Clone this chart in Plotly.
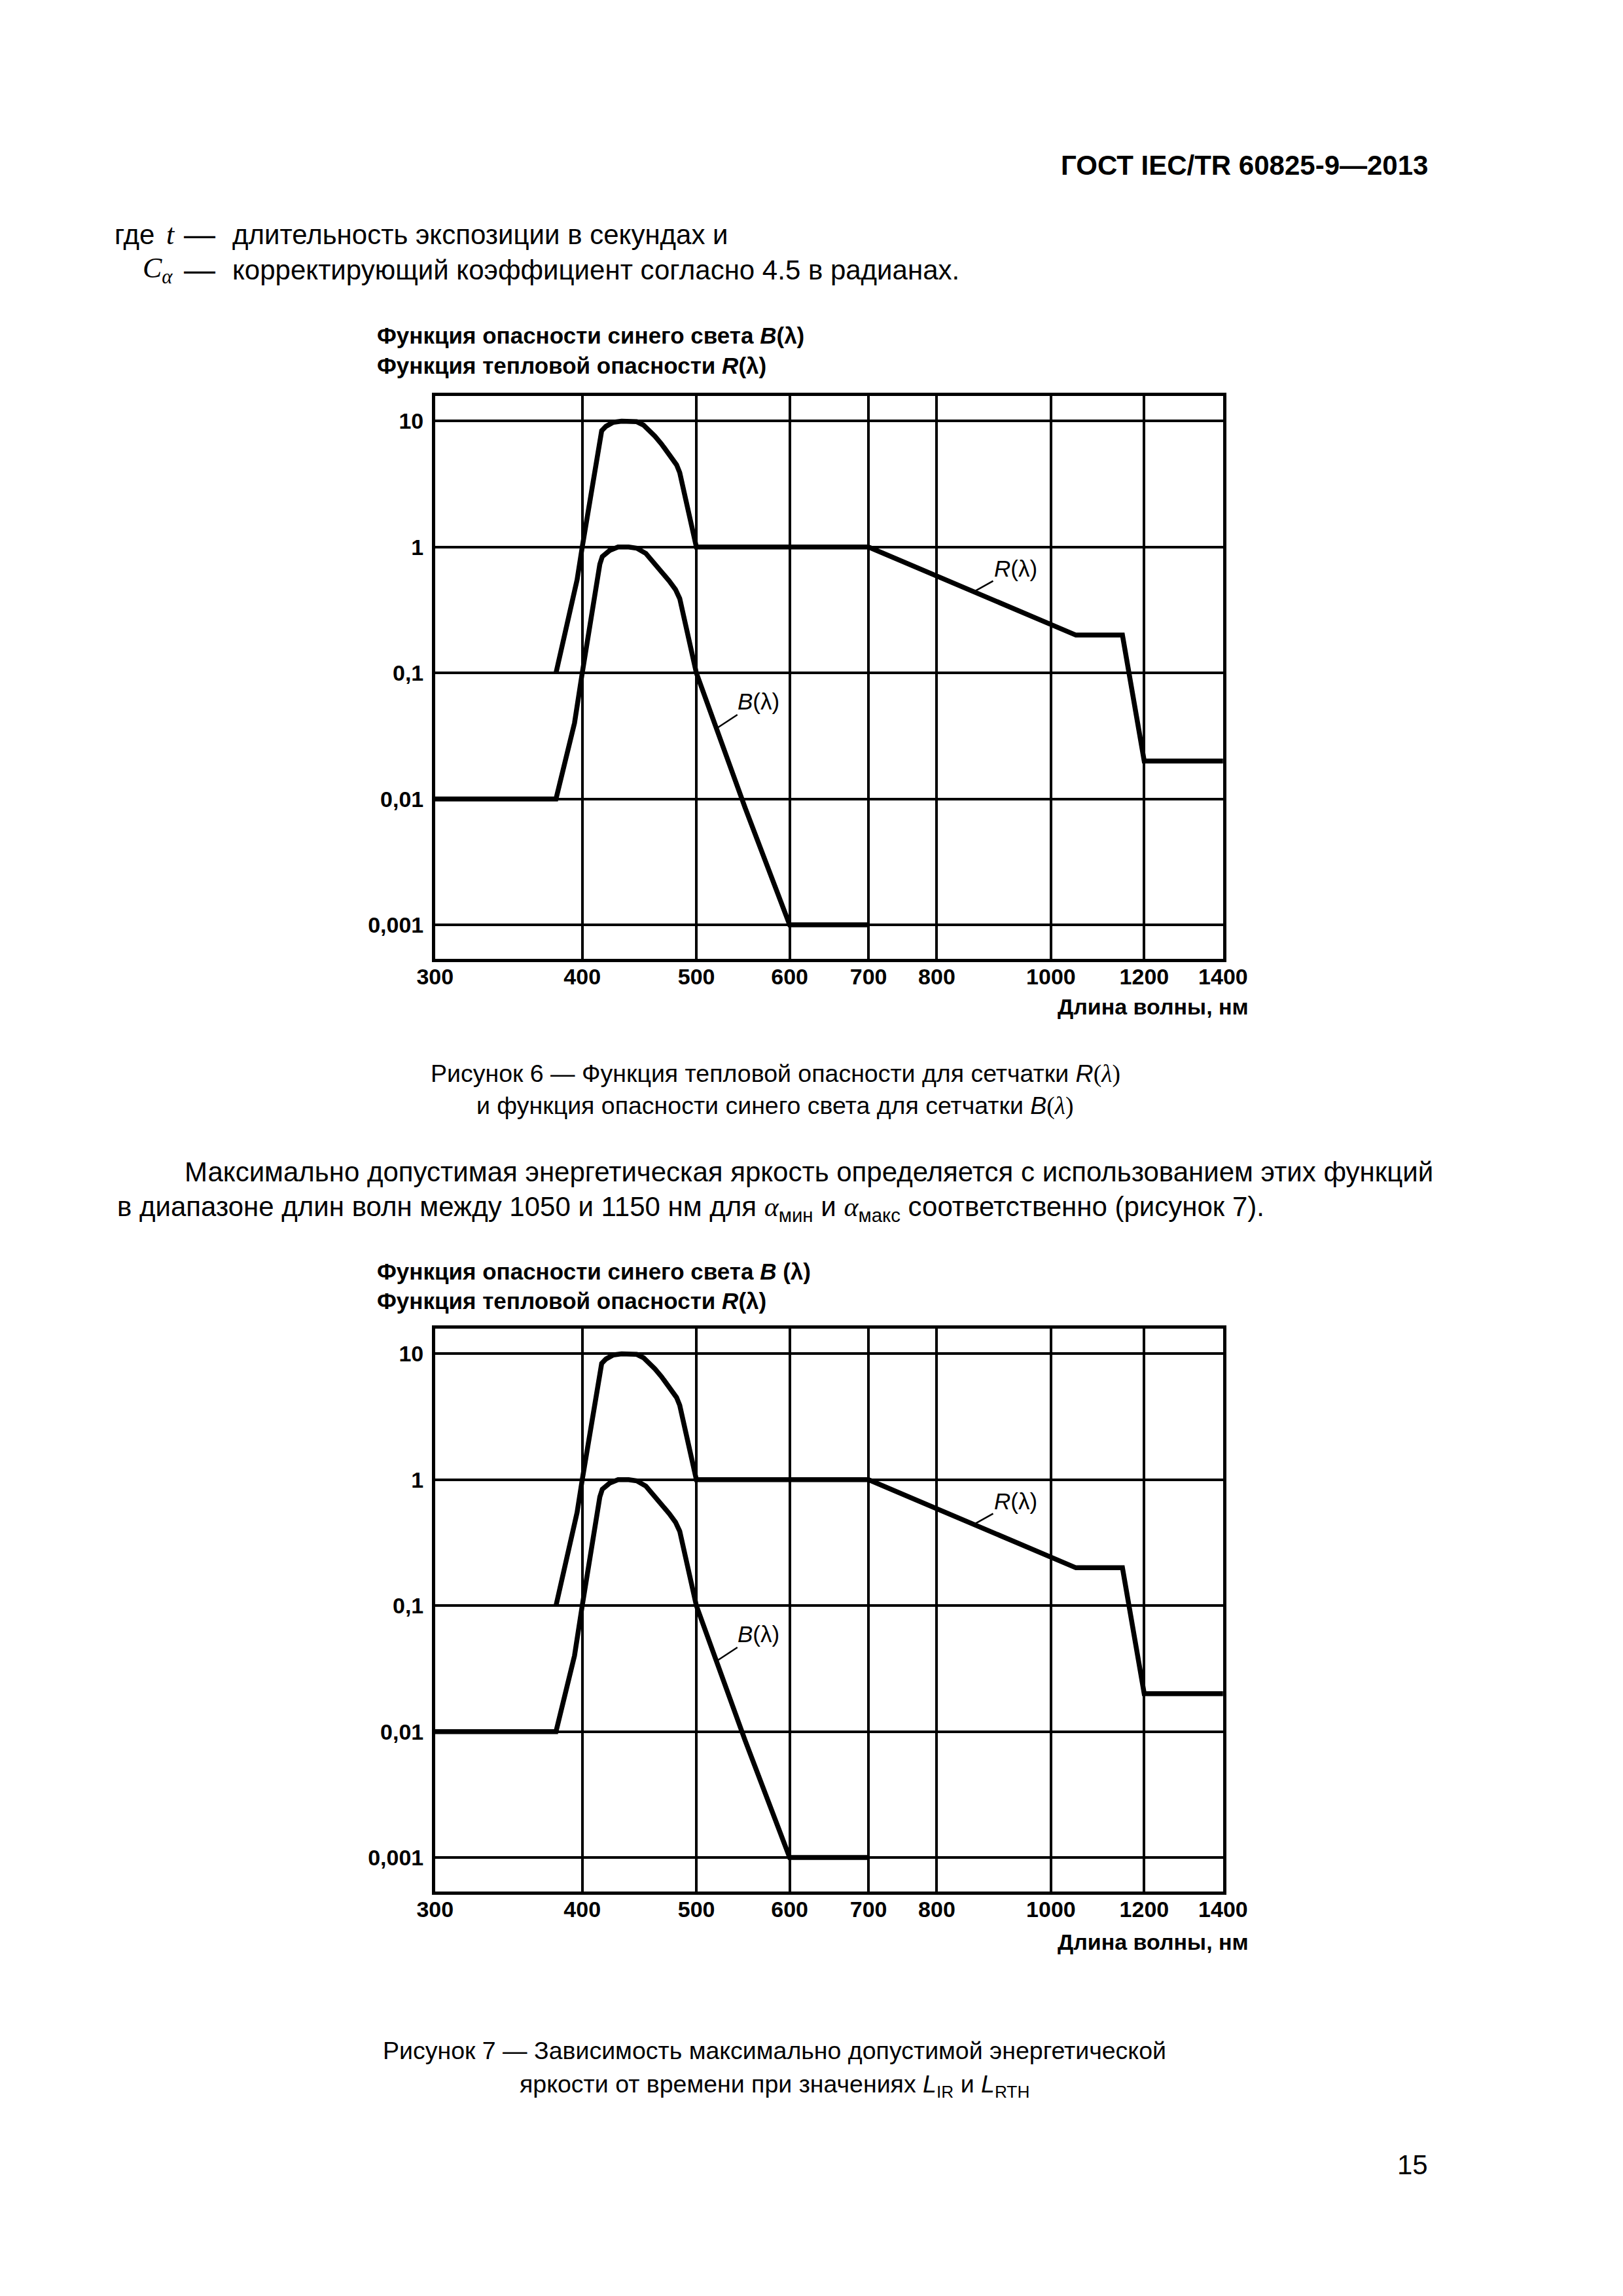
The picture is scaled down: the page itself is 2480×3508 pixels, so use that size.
import numpy as np
import plotly.graph_objects as go

# ---------------- data ----------------
wl_B = [300, 380, 394, 397.5, 400, 414, 416, 422, 429, 438, 445, 453, 460, 468, 474, 480, 484, 500, 550, 600, 700]
B_vals = [0.01, 0.01, 0.04, 0.064, 0.1, 0.73, 0.84, 0.94, 1.0, 1.0, 0.98, 0.89, 0.76, 0.62, 0.54, 0.46, 0.39,
          0.1, 0.0085, 0.001, 0.001]

wl_R = [380, 391, 396, 400, 414, 415.5, 419, 425, 432, 440, 445, 451, 455, 461, 467, 472, 478, 481, 484,
        500, 700, 1050, 1150, 1200, 1400]
R_vals = [0.1, 0.33, 0.55, 1.0, 7.5, 8.4, 9.1, 9.8, 10, 10, 9.9, 9.3, 8.6, 7.6, 6.6, 5.8, 5.0, 4.5, 3.9,
          1.0, 1.0, 0.2, 0.2, 0.02, 0.02]

x_ticks = [300, 400, 500, 600, 700, 800, 1000, 1200, 1400]
x_ticklabels = ["300", "400", "500", "600", "700", "800", "1000", "1200", "1400"]
y_ticks = [0.001, 0.01, 0.1, 1, 10]
y_ticklabels = ["0,001", "0,01", "0,1", "1", "10"]
x_range = [300, 1400]
y_range_log = [-3.27, 1.20]

label_R_wl = 860
label_B_wl = 520

# ---------------- page geometry ----------------
W, H = 2480, 3508
SANS = "Liberation Sans, Arial, sans-serif"
SERIF = "Liberation Serif, Times New Roman, serif"


def px(x):
    return x / W


def py(y):
    return 1 - y / H


fig = go.Figure()

PLOT_L, PLOT_R = 646, 1883
chart_tops = [597, 2022]
PLOT_HEIGHT = 860
TEXT_OFFSETS = [0, 1429]

annotations = []


def txt(x, y, text, size, anchor="left", bold=False, family=SANS):
    if bold:
        text = "<b>" + text + "</b>"
    annotations.append(dict(x=px(x), y=py(y), xref="paper", yref="paper", text=text,
                            showarrow=False, xanchor=anchor, yanchor="middle",
                            font=dict(family=family, size=size, color="black")))


logwl_R = np.log10(wl_R)
logR = np.log10(R_vals)
logwl_B = np.log10(wl_B)
logB = np.log10(B_vals)

for i, off in enumerate(TEXT_OFFSETS):
    sfx = "" if i == 0 else str(i + 1)
    xa, ya = "x" + sfx, "y" + sfx
    top = chart_tops[i]
    bot = top + PLOT_HEIGHT
    fig.add_trace(go.Scatter(x=wl_B, y=B_vals, mode="lines", xaxis=xa, yaxis=ya,
                             line=dict(color="black", width=7.5), showlegend=False, hoverinfo="skip"))
    fig.add_trace(go.Scatter(x=wl_R, y=R_vals, mode="lines", xaxis=xa, yaxis=ya,
                             line=dict(color="black", width=7.5), showlegend=False, hoverinfo="skip"))
    axis_common = dict(showgrid=True, gridcolor="black", gridwidth=3.5, showline=True, mirror=True,
                       linecolor="black", linewidth=4.5, ticks="", zeroline=False,
                       tickfont=dict(family=SANS, size=34, color="black"))
    fig.layout["xaxis" + sfx] = dict(axis_common, type="log",
                                     range=[np.log10(x_range[0]), np.log10(x_range[1])],
                                     domain=[px(PLOT_L), px(PLOT_R)], anchor=ya,
                                     tickvals=x_ticks, ticktext=["<b>%s</b>" % t for t in x_ticklabels],
                                     ticklabelstandoff=-7)
    fig.layout["yaxis" + sfx] = dict(axis_common, type="log", range=y_range_log,
                                     domain=[py(bot), py(top)], anchor=xa,
                                     tickvals=y_ticks, ticktext=["<b>%s</b>" % t for t in y_ticklabels],
                                     ticklabelstandoff=6)
    # curve labels with leader lines
    lxR = np.log10(label_R_wl)
    lyR = float(np.interp(lxR, logwl_R, logR))
    annotations.append(dict(x=lxR, y=lyR, xref=xa, yref=ya, text="<i>R</i>(λ)", showarrow=True,
                            arrowhead=0, arrowwidth=2.5, arrowcolor="black", ax=64, ay=-36,
                            font=dict(family=SANS, size=35, color="black")))
    lxB = np.log10(label_B_wl)
    lyB = float(np.interp(lxB, logwl_B, logB))
    annotations.append(dict(x=lxB, y=lyB, xref=xa, yref=ya, text="<i>B</i>(λ)", showarrow=True,
                            arrowhead=0, arrowwidth=2.5, arrowcolor="black", ax=64, ay=-42,
                            font=dict(family=SANS, size=35, color="black")))
    # chart titles
    btitle = "Функция опасности синего света <i>B</i>(λ)" if i == 0 else "Функция опасности синего света <i>B</i> (λ)"
    txt(553, 505 + off, btitle, 35, bold=True)
    txt(553, 550 + off, "Функция тепловой опасности <i>R</i>(λ)", 35, bold=True)
    txt(1925, 1530 + off, "Длина волны, нм", 34, anchor="right", bold=True)

# ---------------- page text ----------------
txt(2207, 244, "ГОСТ IEC/TR 60825-9—2013", 42, anchor="right", bold=True)
txt(141, 350, "где", 42)
txt(222, 350, "<i>t</i>", 44, family=SERIF)
txt(250, 350, "—", 48)
txt(326, 350, "длительность экспозиции в секундах и", 42)
txt(185, 404, "<i>C</i><sub><i>α</i></sub>", 44, family=SERIF)
txt(250, 404, "—", 48)
txt(326, 404, "корректирующий коэффициент согласно 4.5 в радианах.", 42)

serif_lam = "<span style='font-family:Liberation Serif'>(<i>λ</i>)</span>"
txt(1180, 1632, "Рисунок 6 — Функция тепловой опасности для сетчатки <i>R</i>" + serif_lam, 37.5, anchor="center")
txt(1180, 1681, "и функция опасности синего света для сетчатки <i>B</i>" + serif_lam, 37.5, anchor="center")

alpha = "<span style='font-family:Liberation Serif'><i>α</i></span>"
txt(251, 1782, "Максимально допустимая энергетическая яркость определяется с использованием этих функций", 42)
txt(145, 1838, "в диапазоне длин волн между 1050 и 1150 нм для " + alpha + "<sub>мин</sub> и " + alpha
    + "<sub>макс</sub> соответственно (рисунок 7).", 42)

txt(1179, 3125, "Рисунок 7 — Зависимость максимально допустимой энергетической", 37.5, anchor="center")
txt(1179, 3179, "яркости от времени при значениях <i>L</i><sub>IR</sub> и <i>L</i><sub>RTH</sub>", 37.5,
    anchor="center")
txt(2207, 3299, "15", 42, anchor="right")

fig.update_layout(width=W, height=H, margin=dict(l=0, r=0, t=0, b=0), autosize=False,
                  paper_bgcolor="white", plot_bgcolor="white", annotations=annotations,
                  showlegend=False)

fig.write_html("out.html")
